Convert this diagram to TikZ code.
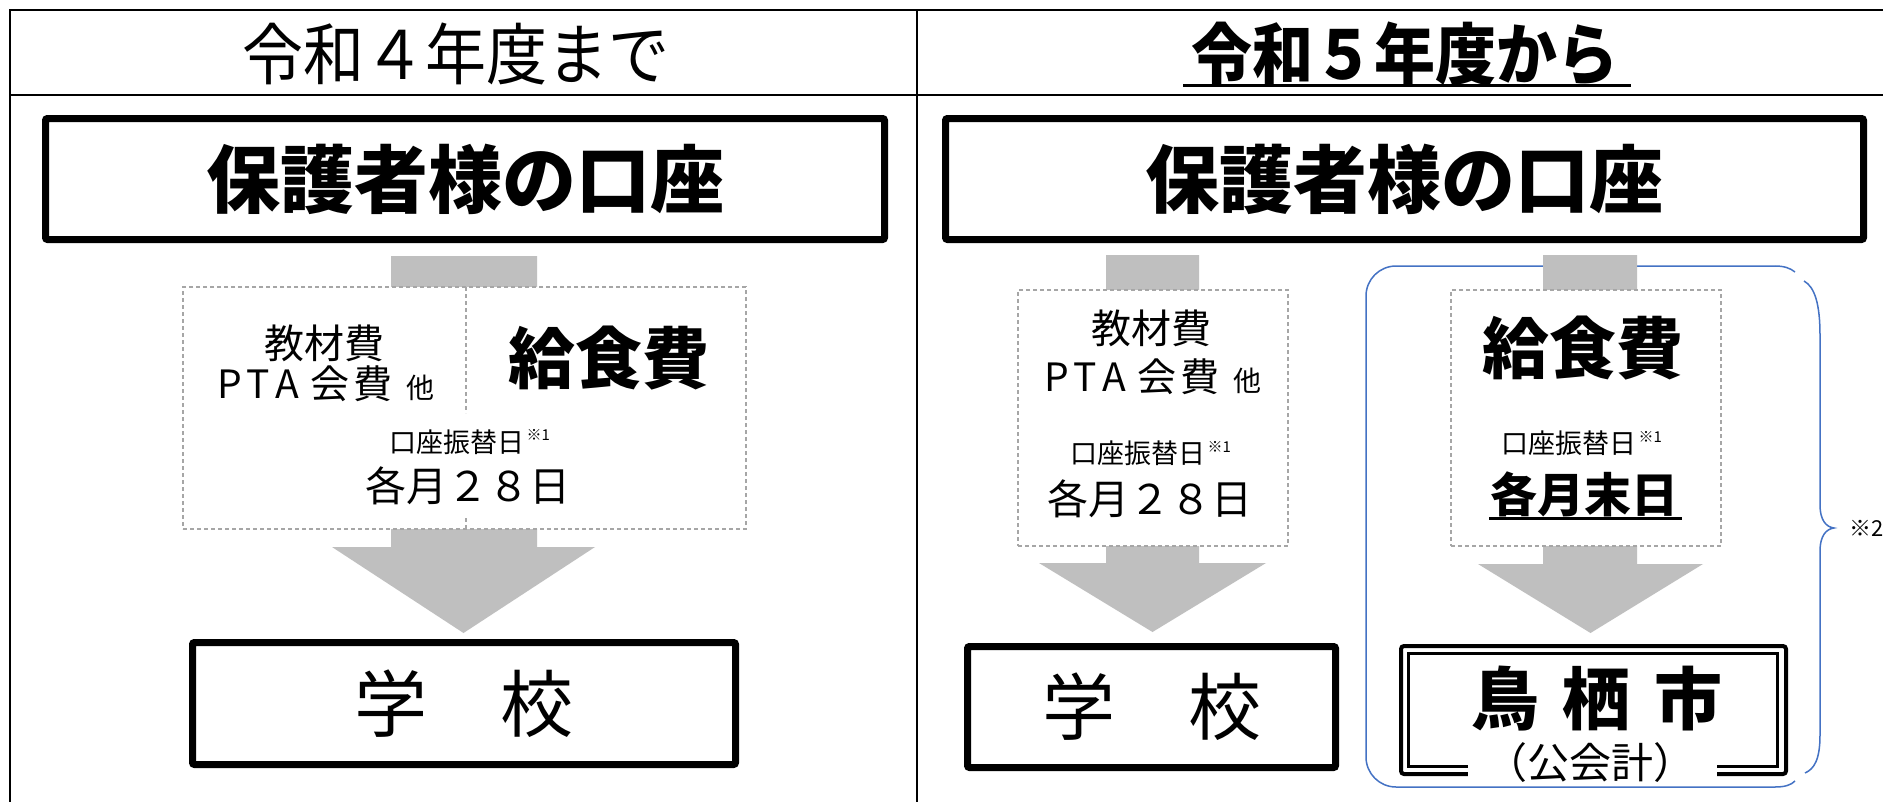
\documentclass[tikz,border=0pt]{standalone}
\usepackage{fontspec}
\setmainfont{Noto Sans CJK JP}
\definecolor{agray}{HTML}{BFBFBF}
\definecolor{dgray}{HTML}{A6A6A6}
\definecolor{bblue}{HTML}{4472C4}
\newcommand{\fs}[1]{\fontsize{#1}{#1}\selectfont}
\newcommand{\ptaline}{P\kern5pt T\kern5pt A\hspace{12pt}会\kern4pt 費\hspace{14pt}{\fs{28}他}}
\tikzset{
  tline/.style={line width=2pt},
  thickbox/.style={draw, line width=7pt, rounded corners=2pt, inner sep=0pt},
  dashbox/.style={draw=dgray, line width=1.2pt, dash pattern=on 4pt off 3pt, fill=white, inner sep=0pt},
  dashline/.style={draw=dgray, line width=1.2pt, dash pattern=on 4pt off 3pt},
  garrow/.style={fill=agray},
  txt/.style={inner sep=0pt, outer sep=0pt, align=center},
  sup/.style={inner sep=0pt, outer sep=0pt, font=\fs{15}, anchor=north west},
  bluel/.style={draw=bblue, line width=1.5pt},
}
\begin{document}
\begin{tikzpicture}[x=1pt,y=-1pt]
\clip (0,0) rectangle (1883,801);
\fill[white] (0,0) rectangle (1883,801);
% table lines
\draw[tline] (10,900) -- (10,10) -- (1950,10);
\draw[tline] (10,95) -- (1950,95);
\draw[tline] (917,10) -- (917,900);
% titles
\node[txt, font=\fs{61}] (t4) at (455.5,53.5) {\scalebox{1}[1.1]{令和４年度まで}};
\node[txt, font=\fs{61}\bfseries] (t5) at (1404.5,53.5) {\scalebox{1}[1.1]{令和５年度から}};
\draw[line width=3pt] (1183,85) -- (1631,85);
% accounts
\node[thickbox, minimum width=839pt, minimum height=121pt, font=\fs{74}\bfseries] (accL) at (465,179) {保護者様の口座};
\node[thickbox, minimum width=918pt, minimum height=121pt, font=\fs{74}\bfseries] (accR) at (1404.5,179) {保護者様の口座};
% blue bracket and brace
\draw[bluel, rounded corners=30pt] (1775,266) -- (1366,266) -- (1366,787) -- (1775,787);
\draw[bluel] (1775,266) .. controls (1784,266) and (1790,268) .. (1795,272);
\draw[bluel] (1775,787) .. controls (1785,787) and (1791,785) .. (1795,781);
\draw[bluel] (1804,281) .. controls (1815,287) and (1820,305) .. (1820,335) -- (1820,505)
  .. controls (1820,520) and (1826,527) .. (1834,528)
  .. controls (1826,529) and (1820,536) .. (1820,551) -- (1820,735)
  .. controls (1820,760) and (1814,769) .. (1805,773);
% gray arrows
\fill[garrow] (391,256) -- (537,256) -- (537,547) -- (595,547) -- (463.5,633) -- (332,547) -- (391,547) -- cycle;
\fill[garrow] (1106,255) -- (1199,255) -- (1199,563) -- (1266,563) -- (1152.5,632) -- (1039,563) -- (1106,563) -- cycle;
\fill[garrow] (1543,255) -- (1637,255) -- (1637,564) -- (1703,564) -- (1590.5,633) -- (1478,564) -- (1543,564) -- cycle;
% dashed boxes
\node[dashbox, minimum width=563pt, minimum height=242pt] (dL) at (464.5,408) {};
\draw[dashline] (466,287) -- (466,413);
\draw[dashline] (466,518) -- (466,529);
\node[dashbox, minimum width=270pt, minimum height=256pt] (dR1) at (1153,418) {};
\node[dashbox, minimum width=270pt, minimum height=256pt] (dR2) at (1586,418) {};
% left texts
\node[txt, font=\fs{40}] (kyozaiL) at (324,343.5) {教材費};
\node[txt, font=\fs{39}] (ptaL) at (326,384) {\ptaline};
\node[txt, font=\fs{67}\bfseries] (kyushokuL) at (609,358) {給食費};
\node[txt, font=\fs{27}] (furikaeL) at (457,442) {口座振替日};
\node[sup] at ([xshift=2pt]furikaeL.north east) {※1};
\node[txt, font=\fs{41}] (dateL) at (468,485.5) {各月２８日};
% right texts
\node[txt, font=\fs{40}] (kyozaiR) at (1151.5,328.5) {教材費};
\node[txt, font=\fs{39}] (ptaR) at (1153,377) {\ptaline};
\node[txt, font=\fs{27}] (furikaeR1) at (1138,453.5) {口座振替日};
\node[sup] at ([xshift=2pt]furikaeR1.north east) {※1};
\node[txt, font=\fs{41}] (dateR1) at (1150,498.5) {各月２８日};
\node[txt, font=\fs{67}\bfseries] (kyushokuR) at (1583,348) {給食費};
\node[txt, font=\fs{27}] (furikaeR2) at (1569,443.5) {口座振替日};
\node[sup] at ([xshift=2pt]furikaeR2.north east) {※1};
\node[txt, font=\fs{47}\bfseries] (dateR2) at (1584.5,494) {各月末日};
\draw[line width=3pt] (1489,518) -- (1682,518);
% schools
\node[thickbox, minimum width=543pt, minimum height=122pt, font=\fs{73}] (schoolL) at (464,703.5) {学　校};
\node[thickbox, minimum width=368pt, minimum height=121pt, font=\fs{73}] (schoolR) at (1151.5,707) {学　校};
% city
\node[draw, line width=4pt, rounded corners=3pt, minimum width=385pt, minimum height=128pt, inner sep=0pt] (cityO) at (1593.5,710) {};
\node[draw, line width=3pt, minimum width=369pt, minimum height=113pt, inner sep=0pt] (cityI) at (1593,710) {};
\fill[white] (1468,752) rectangle (1717,781);
\node[txt, font=\fs{68}\bfseries] (city) at (1597,699) {鳥\hspace{24pt}栖\hspace{24pt}市};
\node[txt, font=\fs{42}] (kokai) at (1590,763) {（公会計）};
\node[txt, font=\fs{22}, anchor=west] (note2) at (1849,528) {※2};
\end{tikzpicture}
\end{document}
